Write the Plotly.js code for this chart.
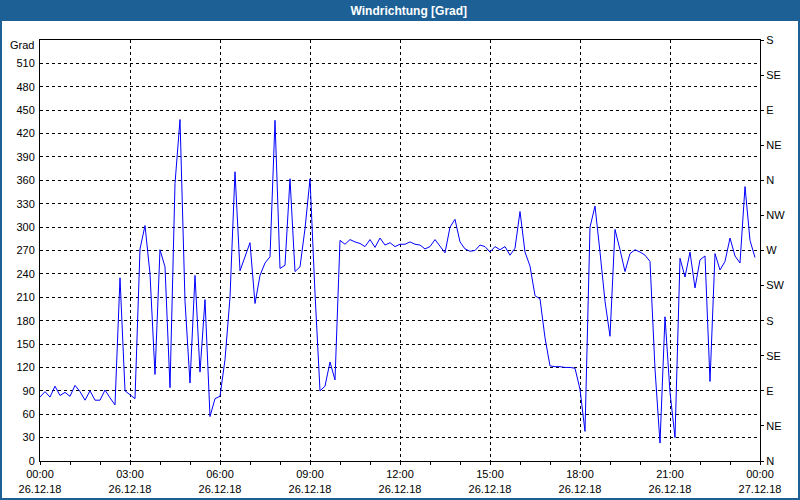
<!DOCTYPE html>
<html>
<head>
<meta charset="utf-8">
<script src="https://cdn.plot.ly/plotly-3.0.1.min.js"></script>
<style>
  html, body { margin: 0; padding: 0; background: #ffffff; }
  #chart { width: 800px; height: 500px; }
</style>
</head>
<body>
<div id="chart"></div>
<script>
// ---- DATA ----
const chartTitle = 'Windrichtung [Grad]';
const startTime = '2018-12-26T00:00:00';
const intervalMinutes = 10;
const windDirection = [
  82, 89, 82, 96, 84, 88, 83, 97, 89, 78,
  90, 78, 78, 91, 81, 72, 235, 90, 85, 80,
  272, 302, 240, 111, 271, 249, 94, 356, 438, 205,
  100, 238, 114, 207, 57, 80, 83, 130, 210, 371,
  244, 263, 280, 202, 238, 254, 262, 437, 247, 251,
  362, 243, 249, 298, 362, 215, 90, 96, 127, 104,
  283, 278, 284, 281, 279, 275, 284, 274, 286, 277,
  280, 275, 278, 278, 281, 278, 277, 272, 275, 284,
  275, 267, 300, 310, 281, 272, 269, 270, 277, 275,
  268, 275, 271, 275, 264, 273, 320, 268, 250, 212,
  208, 158, 122, 121, 121, 120, 120, 119, 92, 38,
  300, 327, 268, 205, 160, 297, 271, 243, 266, 271,
  268, 264, 256, 118, 23, 185, 88, 30, 260, 236,
  268, 222, 258, 263, 102, 266, 245, 256, 286, 263,
  254, 352, 283, 261
];
const xTickVals = ['2018-12-26 00:00', '2018-12-26 03:00', '2018-12-26 06:00', '2018-12-26 09:00',
  '2018-12-26 12:00', '2018-12-26 15:00', '2018-12-26 18:00', '2018-12-26 21:00', '2018-12-27 00:00'];
const xTickText = ['00:00<br>26.12.18', '03:00<br>26.12.18', '06:00<br>26.12.18', '09:00<br>26.12.18',
  '12:00<br>26.12.18', '15:00<br>26.12.18', '18:00<br>26.12.18', '21:00<br>26.12.18', '00:00<br>27.12.18'];
const yTickVals = [0, 30, 60, 90, 120, 150, 180, 210, 240, 270, 300, 330, 360, 390, 420, 450, 480, 510];
const y2TickVals = [0, 45, 90, 135, 180, 225, 270, 315, 360, 405, 450, 495, 540];
const y2TickText = ['N', 'NE', 'E', 'SE', 'S', 'SW', 'W', 'NW', 'N', 'NE', 'E', 'SE', 'S'];
const yUnitLabel = 'Grad';

// ---- build times ----
function pad(n) { return (n < 10 ? '0' : '') + n; }
const t0 = new Date(startTime + 'Z').getTime();
const times = windDirection.map(function (_, i) {
  const d = new Date(t0 + i * intervalMinutes * 60000);
  return d.getUTCFullYear() + '-' + pad(d.getUTCMonth() + 1) + '-' + pad(d.getUTCDate()) + ' ' +
         pad(d.getUTCHours()) + ':' + pad(d.getUTCMinutes());
});

// ---- geometry helpers ----
const W = 800, H = 500;
const M = { l: 40, r: 40, t: 40, b: 39 };
const PW = W - M.l - M.r, PH = H - M.t - M.b;
function px(x) { return (x - M.l) / PW; }
function py(y) { return (H - M.b - y) / PH; }

const font = { family: 'Liberation Sans, Arial, sans-serif', size: 11, color: '#000000' };
const frameBlue = '#1c6096';

const traces = [
  {
    x: times, y: windDirection, type: 'scatter', mode: 'lines',
    line: { color: '#0000ff', width: 1 }, hoverinfo: 'x+y', showlegend: false
  },
  {
    x: [], y: [], type: 'scatter', mode: 'lines', yaxis: 'y2',
    showlegend: false, hoverinfo: 'skip'
  }
];

const layout = {
  width: W, height: H,
  margin: M,
  paper_bgcolor: '#ffffff',
  plot_bgcolor: '#ffffff',
  font: font,
  showlegend: false,
  title: {
    text: '<b>' + chartTitle + '</b>',
    font: { family: 'Liberation Sans, Arial, sans-serif', size: 12, color: '#ffffff' },
    xref: 'container', x: 0.511, xanchor: 'center',
    yref: 'container', y: 1 - 10.5 / H, yanchor: 'middle'
  },
  xaxis: {
    type: 'date',
    range: ['2018-12-26 00:00', '2018-12-27 00:00'],
    tickmode: 'array', tickvals: xTickVals, ticktext: xTickText,
    ticks: 'outside', ticklen: 3, tickcolor: '#000000', tickwidth: 1,
    minor: { dtick: 3600000, ticks: 'outside', ticklen: 3, tickcolor: '#000000', tickwidth: 1, showgrid: false },
    showgrid: true, gridcolor: '#000000', gridwidth: 1, griddash: '3px,3px',
    showline: true, linecolor: '#000000', linewidth: 1, mirror: true,
    zeroline: false, tickfont: font, fixedrange: true
  },
  yaxis: {
    range: [0, 540],
    tickmode: 'array', tickvals: yTickVals,
    ticks: 'outside', ticklen: 2, tickcolor: 'rgba(0,0,0,0)',
    showgrid: true, gridcolor: '#000000', gridwidth: 1, griddash: '3px,3px',
    showline: true, linecolor: '#000000', linewidth: 1,
    zeroline: false, tickfont: font, fixedrange: true
  },
  yaxis2: {
    overlaying: 'y', side: 'right',
    range: [0, 540],
    tickmode: 'array', tickvals: y2TickVals, ticktext: y2TickText,
    ticks: 'outside', ticklen: 3, tickcolor: '#000000', tickwidth: 1,
    showgrid: false, showline: true, linecolor: '#000000', linewidth: 1,
    zeroline: false, tickfont: font, fixedrange: true
  },
  annotations: [
    {
      text: yUnitLabel, xref: 'paper', yref: 'paper',
      x: px(36), y: py(45), xanchor: 'right', yanchor: 'middle',
      showarrow: false, font: font
    }
  ],
  shapes: [
    {
      type: 'rect', xref: 'paper', yref: 'paper', layer: 'below',
      x0: px(0), x1: px(W), y0: py(21), y1: py(0),
      fillcolor: frameBlue, line: { width: 0 }
    },
    {
      type: 'rect', xref: 'paper', yref: 'paper', layer: 'above',
      x0: px(1), x1: px(W - 1), y0: py(H - 1), y1: py(1),
      fillcolor: 'rgba(0,0,0,0)', line: { color: frameBlue, width: 2 }
    }
  ]
};

Plotly.newPlot('chart', traces, layout, { staticPlot: true, displayModeBar: false });
</script>
</body>
</html>
